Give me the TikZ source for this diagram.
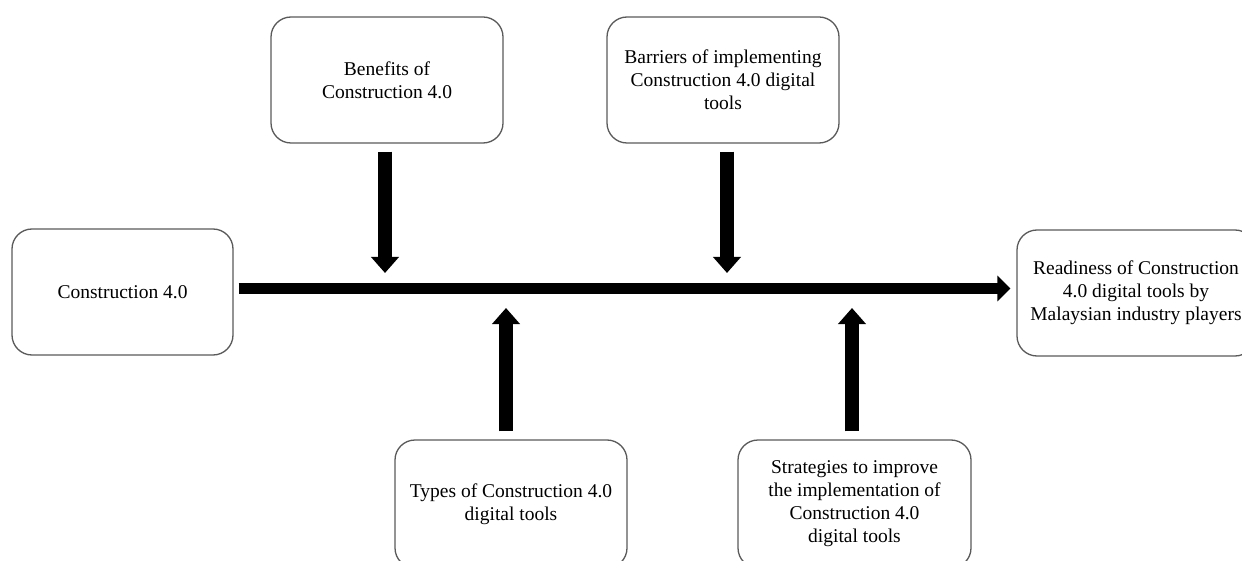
\documentclass[tikz,border=0pt]{standalone}
\usepackage{fontspec}
\setmainfont{Liberation Serif}
\usetikzlibrary{arrows.meta}
\definecolor{boxline}{HTML}{5A5A5A}
\begin{document}
\begin{tikzpicture}[x=1pt,y=-1pt,
  box/.style={draw=boxline, line width=1.3pt, rounded corners=20pt, fill=white,
    align=center, inner sep=0pt, font=\fontsize{19.5pt}{23pt}\selectfont},
  varrow/.style={line width=14pt, -{Triangle[width=27pt,length=16pt]}},
  harrow/.style={line width=11.5pt, -{Triangle[width=25pt,length=13pt]}}]
\useasboundingbox (0,0) rectangle (1242,561);
\clip (0,0) rectangle (1242,561);
\node[box, minimum width=221pt, minimum height=126pt] (c40) at (122.5,292) {Construction 4.0};
\node[box, minimum width=232pt, minimum height=126pt] (ben) at (387,80) {Benefits of\\Construction 4.0};
\node[box, minimum width=232pt, minimum height=126pt] (bar) at (723,80) {Barriers of implementing\\Construction 4.0 digital\\tools};
\node[box, minimum width=232pt, minimum height=128pt] (typ) at (511,504) {Types of Construction 4.0\\digital tools};
\node[box, minimum width=233pt, minimum height=128pt] (str) at (854.5,504) {Strategies to improve\\the implementation of\\Construction 4.0\\digital tools};
\node[box, minimum width=238pt, minimum height=126pt] (rd) at (1136,293) {Readiness of Construction\\4.0 digital tools by\\Malaysian industry players};
\coordinate (m) at (0,288.5);
\coordinate (bt) at (385,273);
\coordinate (rt) at (727,273);
\coordinate (tt) at (506,308);
\coordinate (st) at (852,308);
\draw[harrow] ([xshift=5pt]c40.east |- m) -- ([xshift=-6pt]rd.west |- m);
\draw[varrow] ([yshift=-8pt]ben.south -| bt) -- (bt);
\draw[varrow] ([yshift=-8pt]bar.south -| rt) -- (rt);
\draw[varrow] ([yshift=8pt]typ.north -| tt) -- (tt);
\draw[varrow] ([yshift=8pt]str.north -| st) -- (st);
\end{tikzpicture}
\end{document}
